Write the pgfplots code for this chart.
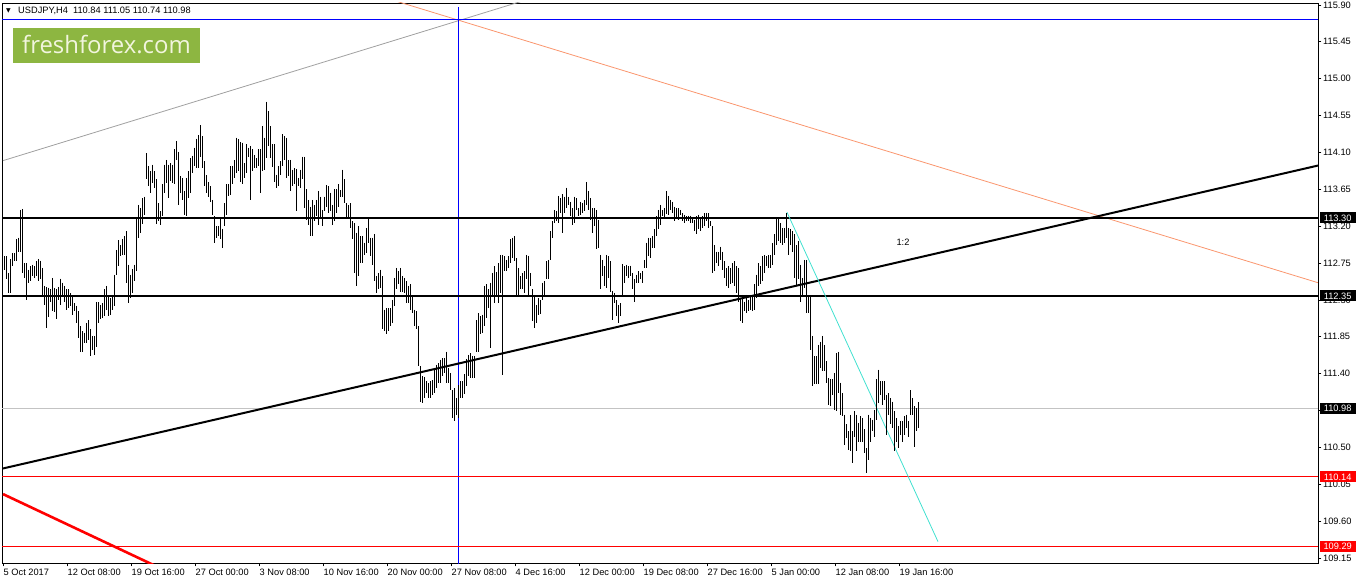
\documentclass[border=0pt]{standalone}
\usepackage{pgfplots}
\pgfplotsset{compat=1.18}
\usepackage{pgfplotstable}
\usepackage{fontspec}
\setmainfont{Liberation Sans}
\newfontfamily\dejavu{DejaVu Sans}
\newfontfamily\logofont{Open Sans}
\newcommand\lbl{\fontsize{9.3}{11}\selectfont}
\definecolor{logogreen}{RGB}{141,182,65}
\definecolor{logotext}{RGB}{242,245,222}
\definecolor{orangeln}{RGB}{250,150,110}
\definecolor{grayln}{RGB}{160,160,160}
\definecolor{lgrayln}{RGB}{195,195,195}
\definecolor{cyanln}{RGB}{64,224,208}
\definecolor{redln}{RGB}{255,0,0}
\definecolor{blueln}{RGB}{0,0,255}

\pgfplotstableread{
i h l
0 112.91 112.70
1 112.83 112.67
2 112.83 112.55
3 112.63 112.38
4 112.80 112.39
5 112.87 112.71
6 112.87 112.77
7 113.04 112.77
8 113.06 112.88
9 113.40 112.88
10 113.41 112.63
11 112.75 112.57
12 112.75 112.30
13 112.67 112.51
14 112.71 112.53
15 112.73 112.59
16 112.71 112.57
17 112.77 112.59
18 112.80 112.53
19 112.78 112.56
20 112.69 112.34
21 112.47 112.24
22 112.46 111.96
23 112.45 112.09
24 112.43 112.28
25 112.57 112.16
26 112.45 112.15
27 112.43 112.07
28 112.46 112.30
29 112.56 112.24
30 112.51 112.35
31 112.47 112.28
32 112.43 112.18
33 112.43 112.20
34 112.38 112.22
35 112.34 112.11
36 112.26 112.16
37 112.23 112.02
38 112.16 111.84
39 111.98 111.67
40 111.92 111.67
41 111.90 111.77
42 112.02 111.78
43 112.05 111.81
44 111.94 111.62
45 111.86 111.69
46 111.86 111.63
47 112.27 111.73
48 112.27 112.02
49 112.24 112.07
50 112.26 112.08
51 112.43 112.10
52 112.47 112.18
53 112.34 112.10
54 112.32 112.12
55 112.36 112.18
56 112.61 112.22
57 112.91 112.61
58 113.03 112.71
59 112.97 112.84
60 113.04 112.85
61 113.08 112.85
62 113.14 112.51
63 112.73 112.26
64 112.61 112.32
65 112.68 112.38
66 112.73 112.53
67 113.30 112.65
68 113.46 113.06
69 113.42 113.12
70 113.54 113.23
71 113.56 113.34
72 114.09 113.77
73 113.93 113.69
74 113.87 113.61
75 113.95 113.73
76 113.87 113.67
77 113.77 113.23
78 113.48 113.26
79 113.38 113.22
80 113.71 113.33
81 113.95 113.61
82 114.01 113.73
83 113.95 113.54
84 113.97 113.75
85 113.95 113.73
86 114.14 113.71
87 114.24 114.01
88 114.11 113.46
89 113.81 113.61
90 113.79 113.52
91 113.63 113.34
92 113.79 113.32
93 113.87 113.54
94 114.03 113.61
95 114.06 113.85
96 114.16 113.93
97 114.27 113.91
98 114.31 113.91
99 114.43 114.05
100 114.30 113.91
101 113.99 113.69
102 113.82 113.61
103 113.74 113.56
104 113.69 113.50
105 113.52 113.34
106 113.32 113.00
107 113.20 113.06
108 113.20 113.08
109 113.30 113.04
110 113.17 112.93
111 113.48 113.20
112 113.71 113.34
113 113.71 113.57
114 113.93 113.58
115 113.94 113.72
116 114.01 113.79
117 114.28 113.85
118 114.26 113.87
119 114.23 113.74
120 114.22 113.72
121 113.97 113.79
122 114.20 113.85
123 114.16 114.05
124 114.18 113.52
125 114.14 113.87
126 114.07 113.91
127 114.03 113.91
128 114.14 113.93
129 114.14 113.61
130 114.42 113.87
131 114.28 113.89
132 114.72 114.03
133 114.60 114.18
134 114.42 114.03
135 114.20 113.92
136 114.20 113.74
137 113.83 113.67
138 113.93 113.69
139 113.99 113.83
140 114.32 113.93
141 114.30 114.01
142 114.28 113.79
143 114.01 113.81
144 114.01 113.63
145 113.89 113.69
146 113.91 113.71
147 113.90 113.38
148 113.79 113.69
149 113.89 113.67
150 114.05 113.77
151 114.05 113.42
152 113.65 113.28
153 113.52 113.22
154 113.44 113.08
155 113.52 113.08
156 113.46 113.26
157 113.52 113.32
158 113.63 113.22
159 113.56 113.30
160 113.40 113.20
161 113.56 113.38
162 113.70 113.44
163 113.69 113.36
164 113.61 113.38
165 113.46 113.22
166 113.65 113.26
167 113.65 113.36
168 113.71 113.44
169 113.64 113.56
170 113.89 113.56
171 113.77 113.48
172 113.48 113.30
173 113.46 113.30
174 113.48 113.18
175 113.26 113.04
176 113.24 112.63
177 113.12 112.47
178 113.20 112.59
179 113.08 112.75
180 113.08 112.75
181 113.00 112.85
182 113.18 112.87
183 113.29 113.00
184 113.06 112.83
185 113.06 112.73
186 113.10 112.53
187 112.59 112.38
188 112.63 112.43
189 112.67 112.45
190 112.59 111.94
191 112.18 111.92
192 112.20 111.88
193 112.20 111.92
194 112.20 111.98
195 112.30 112.02
196 112.57 112.22
197 112.69 112.43
198 112.65 112.49
199 112.69 112.40
200 112.59 112.40
201 112.57 112.38
202 112.53 112.26
203 112.47 112.26
204 112.49 112.18
205 112.34 112.14
206 112.18 111.98
207 112.16 111.94
208 111.98 111.49
209 111.49 111.06
210 111.37 111.04
211 111.36 111.10
212 111.31 111.16
213 111.28 111.10
214 111.31 111.10
215 111.32 111.14
216 111.45 111.16
217 111.51 111.22
218 111.53 111.29
219 111.57 111.29
220 111.59 111.37
221 111.59 111.41
222 111.67 111.29
223 111.47 111.29
224 111.41 111.20
225 111.20 110.86
226 111.22 110.82
227 111.10 110.90
228 111.26 110.86
229 111.31 111.10
230 111.31 111.10
231 111.39 111.15
232 111.58 111.25
233 111.63 111.37
234 111.65 111.35
235 111.61 111.35
236 111.61 111.35
237 112.05 111.67
238 112.14 111.66
239 112.10 111.88
240 112.12 111.90
241 112.47 111.98
242 112.49 112.08
243 112.43 112.20
244 112.51 111.71
245 112.63 112.34
246 112.71 112.26
247 112.64 112.36
248 112.75 112.26
249 112.85 112.38
250 112.85 111.38
251 112.83 112.65
252 112.79 112.65
253 112.83 112.69
254 113.04 112.75
255 113.06 112.81
256 113.08 112.77
257 112.81 112.36
258 112.69 112.36
259 112.59 112.43
260 112.63 112.43
261 112.65 112.38
262 112.85 112.55
263 112.84 112.36
264 112.63 112.47
265 112.43 112.04
266 112.36 111.96
267 112.24 112.02
268 112.32 112.12
269 112.30 112.13
270 112.51 112.30
271 112.53 112.34
272 112.77 112.55
273 112.79 112.55
274 113.14 112.79
275 113.26 113.06
276 113.40 113.24
277 113.38 113.26
278 113.57 113.24
279 113.54 113.36
280 113.59 113.12
281 113.56 113.36
282 113.67 113.42
283 113.56 113.46
284 113.50 113.32
285 113.42 113.22
286 113.56 113.24
287 113.54 113.40
288 113.42 113.32
289 113.50 113.34
290 113.48 113.36
291 113.52 113.38
292 113.74 113.46
293 113.63 113.40
294 113.54 113.28
295 113.42 113.12
296 113.42 113.20
297 113.40 112.92
298 113.28 112.93
299 112.85 112.43
300 112.79 112.59
301 112.71 112.47
302 112.85 112.45
303 112.83 112.57
304 112.77 112.40
305 112.41 112.06
306 112.39 112.26
307 112.30 112.10
308 112.24 112.02
309 112.26 112.10
310 112.74 112.34
311 112.71 112.51
312 112.73 112.59
313 112.71 112.57
314 112.72 112.59
315 112.63 112.43
316 112.55 112.28
317 112.61 112.51
318 112.65 112.51
319 112.63 112.55
320 112.65 112.51
321 112.79 112.69
322 113.00 112.69
323 113.06 112.83
324 113.06 112.81
325 113.08 112.93
326 113.16 112.93
327 113.32 113.08
328 113.40 113.16
329 113.46 113.22
330 113.40 113.32
331 113.42 113.30
332 113.63 113.35
333 113.57 113.34
334 113.52 113.40
335 113.50 113.36
336 113.44 113.26
337 113.42 113.30
338 113.42 113.28
339 113.40 113.34
340 113.36 113.26
341 113.34 113.24
342 113.32 113.26
343 113.33 113.26
344 113.33 113.24
345 113.30 113.24
346 113.28 113.14
347 113.32 113.10
348 113.34 113.16
349 113.30 113.14
350 113.32 113.18
351 113.36 113.20
352 113.36 113.26
353 113.36 113.18
354 113.26 113.20
355 113.20 112.63
356 112.97 112.65
357 112.89 112.75
358 112.89 112.71
359 112.95 112.79
360 112.89 112.67
361 112.77 112.57
362 112.69 112.47
363 112.71 112.45
364 112.69 112.49
365 112.75 112.51
366 112.77 112.47
367 112.71 112.38
368 112.69 112.28
369 112.32 112.04
370 112.36 112.02
371 112.28 112.16
372 112.36 112.14
373 112.30 112.16
374 112.36 112.18
375 112.36 112.16
376 112.49 112.18
377 112.61 112.32
378 112.75 112.47
379 112.71 112.49
380 112.83 112.53
381 112.85 112.63
382 112.83 112.71
383 112.85 112.69
384 112.85 112.69
385 112.99 112.73
386 113.10 112.85
387 113.30 112.97
388 113.30 113.02
389 113.24 112.99
390 113.18 112.97
391 113.18 112.99
392 113.36 113.06
393 113.18 112.85
394 113.16 112.97
395 113.14 112.89
396 113.10 112.57
397 112.97 112.47
398 113.02 112.55
399 112.73 112.28
400 112.57 112.34
401 112.79 112.45
402 112.79 112.14
403 112.34 112.14
404 112.34 111.69
405 111.86 111.25
406 111.61 111.27
407 111.61 111.27
408 111.75 111.27
409 111.79 111.47
410 111.86 111.43
411 111.75 111.43
412 111.55 111.29
413 111.35 111.02
414 111.33 111.00
415 111.33 111.14
416 111.41 110.96
417 111.65 110.94
418 111.67 111.16
419 111.29 110.90
420 111.16 110.88
421 110.90 110.53
422 110.78 110.61
423 110.70 110.47
424 110.90 110.45
425 110.70 110.31
426 110.94 110.63
427 110.90 110.45
428 110.80 110.57
429 110.88 110.57
430 110.86 110.57
431 110.72 110.43
432 110.49 110.19
433 110.90 110.35
434 110.86 110.57
435 110.84 110.70
436 110.96 110.63
437 111.33 110.84
438 111.45 111.04
439 111.31 111.14
440 111.31 111.02
441 111.31 111.08
442 111.14 110.65
443 111.16 110.90
444 111.10 110.78
445 111.06 110.74
446 110.94 110.45
447 110.86 110.57
448 110.76 110.49
449 110.82 110.65
450 110.82 110.57
451 110.88 110.65
452 110.90 110.74
453 110.82 110.63
454 111.20 110.90
455 111.10 110.90
456 111.00 110.51
457 110.98 110.70
458 111.05 110.74
}\bars

\begin{document}
\begin{tikzpicture}
\path[use as bounding box] (0,0) rectangle (1358bp,584bp);
\begin{axis}[
  at={(2bp,21bp)}, anchor=south west,
  width=1316bp, height=560bp, scale only axis,
  xmin=-0.5, xmax=657.5,
  ymin=109.089, ymax=115.924,
  axis line style={black, line width=0.8bp},
  xtick={0,32,64,96,128,160,192,224,256,288,320,352,384,416,448},
  xticklabels={5 Oct 2017,12 Oct 08:00,19 Oct 16:00,27 Oct 00:00,3 Nov 08:00,10 Nov 16:00,20 Nov 00:00,27 Nov 08:00,4 Dec 16:00,12 Dec 00:00,19 Dec 08:00,27 Dec 16:00,5 Jan 00:00,12 Jan 08:00,19 Jan 16:00},
  ytick={109.15,109.60,110.05,110.50,110.95,111.40,111.85,112.30,112.75,113.20,113.65,114.10,114.55,115.00,115.45,115.90},
  xtick pos=bottom, ytick pos=right, yticklabel pos=right,
  tick align=outside, major tick length=3.5bp,
  tick style={black, line width=0.8bp},
  ticklabel style={font=\lbl, black},
  xticklabel style={anchor=north west, xshift=-1.5bp, inner sep=2bp},
  yticklabel style={anchor=west, inner xsep=1.5bp,
    /pgf/number format/fixed, /pgf/number format/fixed zerofill, /pgf/number format/precision=2},
  /pgf/number format/assume math mode=true,
  clip=true,
]
% reference lines
\addplot[grayln, line width=0.8bp] coordinates {(0,114.00) (300,116.25)};
\addplot[orangeln, line width=0.8bp] coordinates {(180,116.07) (657.5,112.51)};
\addplot[blueln, line width=1.1bp] coordinates {(-0.5,115.72) (657.5,115.72)};
\addplot[blueln, line width=0.9bp] coordinates {(227.75,109.0) (227.75,115.88)};
\addplot[lgrayln, line width=0.8bp] coordinates {(-0.5,110.98) (657.5,110.98)};
\addplot[redln, line width=0.8bp] coordinates {(-0.5,110.14) (657.5,110.14)};
\addplot[redln, line width=1.6bp] coordinates {(-0.5,109.29) (657.5,109.29)};
\addplot[redln, line width=2.6bp] coordinates {(0,109.93) (80,109.01)};
\addplot[black, line width=2bp] coordinates {(-0.5,113.30) (657.5,113.30)};
\addplot[black, line width=2bp] coordinates {(-0.5,112.35) (657.5,112.35)};
\addplot[black, line width=2bp] coordinates {(-0.5,110.24) (657.5,113.94)};
\addplot[cyanln, line width=0.8bp] coordinates {(392,113.37) (467.5,109.35)};
% price bars (high-low)
\addplot[draw=none, mark=none,
  error bars/y dir=minus, error bars/y explicit, error bars/error mark=none,
  error bars/error bar style={draw=black, solid, line width=1bp}]
  table[x=i, y=h, y error minus expr=\thisrow{h}-\thisrow{l}] {\bars};
\node[font=\lbl, black] at (axis cs:450,113.00) {1:2};
\coordinate (L1) at (axis cs:657.5,113.30);
\coordinate (L2) at (axis cs:657.5,112.35);
\coordinate (L3) at (axis cs:657.5,110.98);
\coordinate (L4) at (axis cs:657.5,110.14);
\coordinate (L5) at (axis cs:657.5,109.29);
\end{axis}
\tikzset{pricelbl/.style={anchor=west, inner sep=0pt, minimum width=36bp, minimum height=11bp, font=\lbl, text=white}}
\node[pricelbl, fill=black] at ([xshift=1.5bp]L1) {113.30};
\node[pricelbl, fill=black] at ([xshift=1.5bp]L2) {112.35};
\node[pricelbl, fill=black] at ([xshift=1.5bp]L3) {110.98};
\node[pricelbl, fill=redln] at ([xshift=1.5bp]L4) {110.14};
\node[pricelbl, fill=redln] at ([xshift=1.5bp]L5) {109.29};
% header
\node[anchor=base west, inner sep=0pt, font={\dejavu\fontsize{6}{6}\selectfont}] at (6bp,571bp) {▼};
\node[anchor=base west, inner sep=0pt, font=\lbl] at (18bp,570bp) {USDJPY,H4\ \ 110.84 111.05 110.74 110.98};
% logo
\node[anchor=north west, fill=logogreen, minimum width=187bp, minimum height=35bp, inner sep=0pt] at (13bp,556bp) {};
\node[font={\logofont\fontsize{24}{26}\selectfont}, text=logotext, inner sep=0pt] at (106.5bp,539bp) {freshforex.com};
\end{tikzpicture}
\end{document}
